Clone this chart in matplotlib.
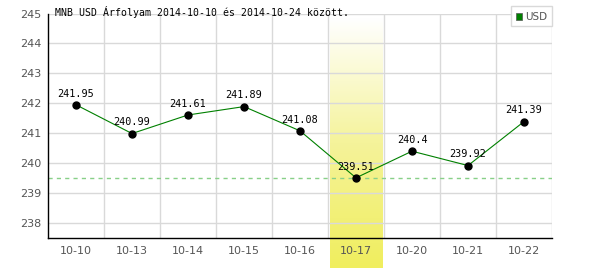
import matplotlib
matplotlib.use("Agg")
import matplotlib.pyplot as plt
import numpy as np
from matplotlib.colors import LinearSegmentedColormap
from matplotlib.patches import Rectangle

categories = ["10-10", "10-13", "10-14", "10-15", "10-16", "10-17", "10-20", "10-21", "10-22"]
values = [241.95, 240.99, 241.61, 241.89, 241.08, 239.51, 240.4, 239.92, 241.39]
value_labels = ["241.95", "240.99", "241.61", "241.89", "241.08", "239.51", "240.4", "239.92", "241.39"]
yticks = [238, 239, 240, 241, 242, 243, 244, 245]
highlight_index = 5
title = "MNB USD Árfolyam 2014-10-10 és 2014-10-24 között."
series_name = "USD"

fig = plt.figure(figsize=(6, 2.7), dpi=100)
ax = fig.add_axes([48/600, 32/270, 504/600, 224.5/270])
n = len(categories)
x = np.arange(n)

# grid
for b in np.arange(-0.5, n + 0.5, 1)[1:]:
    ax.axvline(b, color="#d9d9d9", lw=1, zorder=1)
for t in yticks:
    ax.axhline(t, color="#d9d9d9", lw=1, zorder=1)

# highlight band gradient
cmap = LinearSegmentedColormap.from_list("hl", ["#f0ee5e", "#f5f39a", "#ffffff"])
grad = np.linspace(0, 1, 256).reshape(-1, 1)
ax.imshow(grad, cmap=cmap, aspect="auto", origin="lower",
          extent=(highlight_index - 0.47, highlight_index + 0.47, 236.5, 244.85),
          clip_on=False, zorder=0.5)
ax.set_xlim(-0.5, n - 0.5)
ax.set_ylim(237.5, 245)

# min dashed line
ax.axhline(min(values), color="#88d088", lw=1, ls=(0, (3, 3)), zorder=2)

ax.plot(x, values, color="#008000", lw=0.8, zorder=3)
ax.plot(x, values, "o", color="black", ms=5, zorder=4)

mono = "DejaVu Sans Mono"
for xi, v, lab in zip(x, values, value_labels):
    ax.annotate(lab, (xi, v), xytext=(0, 4.5), textcoords="offset points",
                ha="center", va="bottom", fontsize=7.3, family=mono, color="black", zorder=5)

for s in ["top", "right"]:
    ax.spines[s].set_visible(False)
for s in ["left", "bottom"]:
    ax.spines[s].set_color("black")
    ax.spines[s].set_linewidth(1)
    ax.spines[s].set_zorder(6)

ax.set_xticks(x)
ax.set_xticklabels(categories)
ax.set_yticks(yticks)
ax.tick_params(axis="both", length=0, labelsize=8, colors="#555555", pad=6)
ax.tick_params(axis="y", pad=5)
for lab in ax.get_xticklabels() + ax.get_yticklabels():
    lab.set_family("DejaVu Sans")

fig.text(55/600, 1 - 12/270, title, fontsize=7.1, family=mono, color="black", va="center", ha="left")

# legend
lx0, ly0 = 511/600, 1 - 26/270
fig.patches.append(Rectangle((lx0, ly0), 41/600, 20/270, transform=fig.transFigure,
                             facecolor="white", edgecolor="#d9d9d9", lw=1))
fig.patches.append(Rectangle((516/600, 1 - 19.5/270), 6/600, 6/270, transform=fig.transFigure,
                             facecolor="#008000", edgecolor="#555555", lw=0.5))
fig.text(525/600, 1 - 16.5/270, series_name, fontsize=7.5, color="#555555", va="center", ha="left")

fig.savefig("out.png", dpi=100)
